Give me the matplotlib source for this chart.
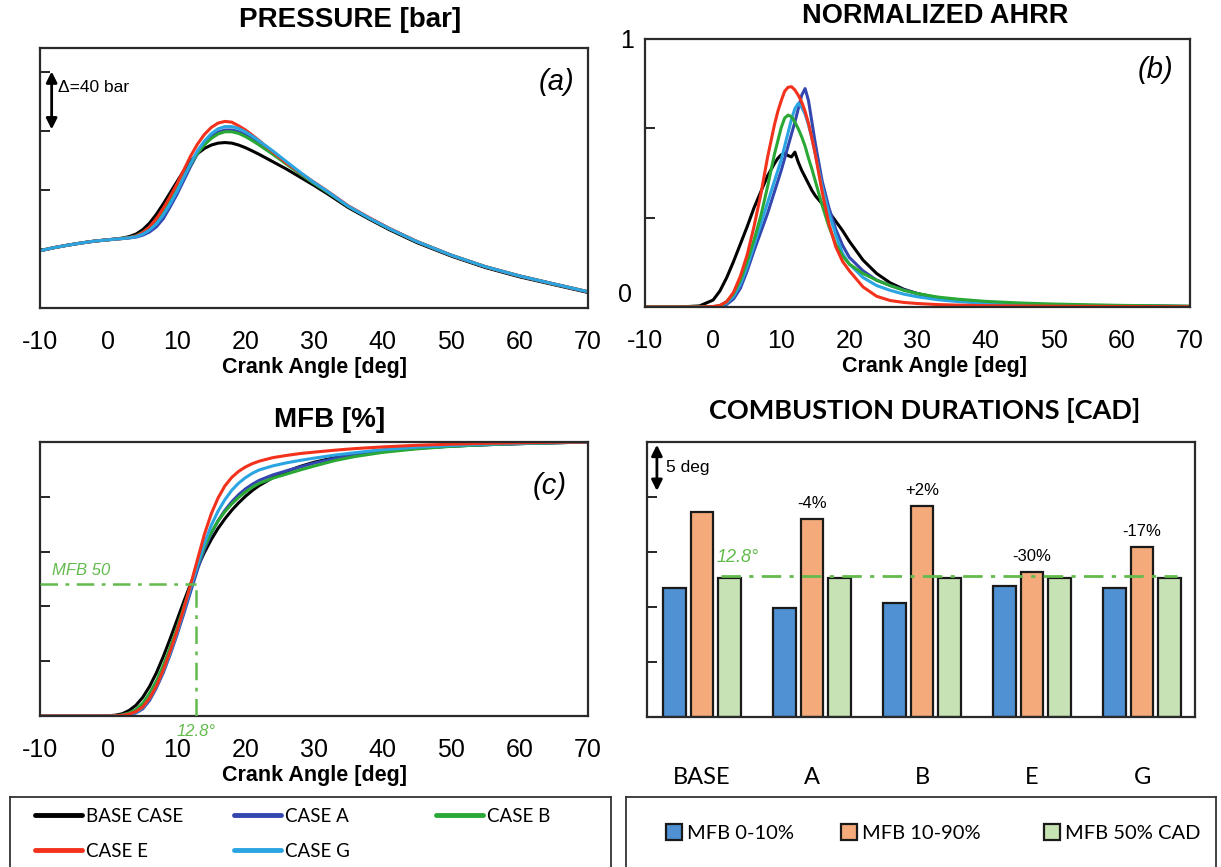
import matplotlib
matplotlib.use('Agg')
import matplotlib.pyplot as plt

plt.rcParams['font.family'] = ['Liberation Sans', 'DejaVu Sans']
plt.rcParams['axes.unicode_minus'] = False

# ---------------- data ----------------
cases = ['BASE CASE', 'CASE A', 'CASE B', 'CASE E', 'CASE G']
case_colors = ['#000000', '#3447b0', '#2aa836', '#f2321c', '#2aa5e2']

# (a) pressure [bar]
ca_p = [-10, -8, -6, -4, -2, 0, 2, 3, 4, 5, 6, 7, 8, 9, 10, 11, 12, 13, 14, 15, 16, 17, 18, 19, 20, 21, 22, 24, 26, 28, 30, 32, 35, 38, 41, 45, 50, 55, 60, 65, 70]
p_base = [38.8, 40.8, 42.5, 44.0, 45.3, 46.2, 47.3, 48.3, 50.0, 53.0, 57.5, 63.5, 70.5, 78.0, 85.5, 93.0, 99.5, 104.5, 108.0, 110.3, 111.6, 112.0, 111.6, 110.3, 108.5, 106.3, 104.0, 99.0, 94.0, 88.5, 83.0, 77.2, 68.0, 60.3, 53.0, 44.3, 35.2, 27.4, 21.1, 15.8, 10.5]
p_a = [38.8, 40.8, 42.5, 44.0, 45.3, 46.2, 47.0, 47.4, 48.0, 49.3, 51.5, 55.0, 60.5, 68.5, 77.0, 86.5, 96.0, 104.5, 111.0, 115.8, 119.0, 120.5, 120.5, 119.3, 117.2, 114.5, 111.5, 105.0, 98.0, 91.0, 84.5, 78.5, 68.8, 61.0, 53.7, 45.0, 35.8, 28.0, 21.7, 16.3, 11.0]
p_b = [38.8, 40.8, 42.5, 44.0, 45.3, 46.2, 47.1, 47.7, 48.8, 51.2, 54.5, 59.5, 65.8, 73.0, 80.5, 89.0, 97.5, 104.8, 110.5, 114.8, 117.8, 119.3, 119.3, 118.2, 116.0, 113.3, 110.3, 104.0, 97.3, 90.7, 84.3, 78.3, 68.8, 61.0, 53.7, 45.0, 35.8, 28.0, 21.7, 16.3, 11.0]
p_e = [38.8, 40.8, 42.5, 44.0, 45.3, 46.2, 47.0, 47.6, 48.6, 51.0, 55.0, 60.5, 67.5, 75.5, 84.0, 93.5, 103.0, 111.0, 117.5, 122.2, 125.2, 126.3, 125.8, 123.3, 120.5, 117.0, 113.3, 105.5, 98.0, 91.5, 85.2, 79.0, 69.2, 61.3, 53.9, 45.1, 35.8, 28.0, 21.7, 16.3, 11.0]
p_g = [38.8, 40.8, 42.5, 44.0, 45.3, 46.2, 47.0, 47.5, 48.2, 50.0, 52.8, 57.0, 63.0, 70.5, 79.0, 88.5, 98.0, 106.5, 113.0, 118.0, 121.3, 122.8, 122.8, 121.5, 119.2, 116.3, 113.0, 106.3, 99.0, 91.8, 85.0, 78.8, 68.9, 61.0, 53.7, 45.0, 35.8, 28.0, 21.7, 16.3, 11.0]

# (b) normalized AHRR
ca_h = [-10, -5, -2, 0, 1, 2, 3, 4, 5, 6, 7, 8, 9, 9.5, 10, 10.5, 11, 11.5, 12, 12.5, 13, 13.5, 14, 14.5, 15, 16, 17, 18, 19, 20, 22, 24, 26, 28, 30, 33, 36, 40, 45, 50, 60, 70]
h_base = [0, 0, 0.004, 0.026, 0.06, 0.11, 0.17, 0.235, 0.30, 0.37, 0.43, 0.49, 0.535, 0.555, 0.568, 0.573, 0.565, 0.56, 0.578, 0.54, 0.51, 0.485, 0.46, 0.435, 0.415, 0.385, 0.355, 0.32, 0.285, 0.245, 0.175, 0.125, 0.09, 0.066, 0.05, 0.034, 0.025, 0.017, 0.011, 0.007, 0.004, 0.002]
h_a = [0, 0, 0, 0, 0.003, 0.01, 0.03, 0.07, 0.135, 0.21, 0.28, 0.35, 0.43, 0.47, 0.51, 0.555, 0.60, 0.645, 0.69, 0.74, 0.79, 0.815, 0.77, 0.69, 0.61, 0.47, 0.37, 0.29, 0.23, 0.185, 0.135, 0.10, 0.08, 0.064, 0.05, 0.032, 0.023, 0.015, 0.01, 0.007, 0.004, 0.002]
h_b = [0, 0, 0, 0.001, 0.005, 0.02, 0.05, 0.10, 0.17, 0.25, 0.34, 0.45, 0.57, 0.62, 0.67, 0.705, 0.716, 0.71, 0.69, 0.665, 0.635, 0.60, 0.555, 0.515, 0.47, 0.38, 0.30, 0.235, 0.19, 0.16, 0.125, 0.10, 0.08, 0.062, 0.05, 0.037, 0.029, 0.021, 0.015, 0.011, 0.006, 0.003]
h_e = [0, 0, 0, 0.002, 0.006, 0.02, 0.055, 0.115, 0.195, 0.30, 0.42, 0.56, 0.68, 0.73, 0.77, 0.805, 0.82, 0.822, 0.81, 0.79, 0.765, 0.73, 0.685, 0.63, 0.57, 0.43, 0.31, 0.225, 0.17, 0.135, 0.075, 0.04, 0.024, 0.017, 0.013, 0.009, 0.007, 0.005, 0.004, 0.003, 0.002, 0.001]
h_g = [0, 0, 0, 0, 0.004, 0.015, 0.04, 0.085, 0.15, 0.23, 0.31, 0.39, 0.47, 0.51, 0.55, 0.60, 0.65, 0.70, 0.74, 0.76, 0.745, 0.72, 0.68, 0.63, 0.57, 0.45, 0.35, 0.27, 0.20, 0.16, 0.11, 0.08, 0.062, 0.048, 0.038, 0.027, 0.02, 0.014, 0.01, 0.007, 0.004, 0.002]

# (c) MFB [%]
ca_m = [-10, -5, 0, 1, 2, 3, 4, 5, 6, 7, 8, 9, 10, 11, 12, 13, 14, 15, 16, 17, 18, 19, 20, 21, 22, 24, 26, 28, 30, 33, 36, 40, 45, 50, 55, 60, 65, 70]
m_base = [0, 0, 0.1, 0.3, 0.8, 2.0, 3.9, 6.8, 10.8, 15.8, 21.7, 28.2, 35.0, 41.8, 48.3, 54.3, 59.7, 64.4, 68.5, 72.0, 75.1, 77.8, 80.2, 82.3, 84.1, 87.0, 89.3, 91.1, 92.6, 94.3, 95.5, 96.7, 97.8, 98.5, 99.0, 99.4, 99.7, 100]
m_a = [0, 0, 0, 0.05, 0.2, 0.5, 1.1, 2.6, 5.7, 10.3, 15.8, 22.4, 29.6, 37.4, 45.5, 53.5, 60.8, 66.6, 71.3, 75.1, 78.2, 80.8, 82.9, 84.6, 86.0, 88.0, 89.5, 90.9, 92.3, 94.0, 95.3, 96.6, 97.7, 98.5, 99.0, 99.4, 99.7, 100]
m_b = [0, 0, 0, 0.1, 0.4, 1.1, 2.3, 4.6, 8.3, 12.8, 18.5, 25.0, 32.0, 39.8, 47.6, 55.0, 61.8, 67.0, 71.2, 74.6, 77.4, 79.8, 81.8, 83.5, 84.9, 86.8, 88.3, 89.8, 91.2, 93.2, 94.7, 96.2, 97.5, 98.4, 99.0, 99.4, 99.7, 100]
m_e = [0, 0, 0, 0.05, 0.2, 0.7, 1.6, 3.3, 6.5, 11.0, 16.8, 23.6, 31.0, 39.2, 48.0, 57.2, 66.3, 73.8, 79.6, 84.0, 87.1, 89.3, 90.9, 92.1, 93.0, 94.3, 95.1, 95.8, 96.3, 97.0, 97.6, 98.2, 98.8, 99.2, 99.5, 99.7, 99.9, 100]
m_g = [0, 0, 0, 0.05, 0.2, 0.6, 1.3, 3.0, 6.3, 10.9, 16.4, 23.0, 30.4, 38.5, 46.8, 55.2, 63.0, 69.6, 74.8, 79.0, 82.4, 85.0, 87.0, 88.6, 89.8, 91.3, 92.4, 93.3, 94.1, 95.2, 96.1, 97.2, 98.1, 98.7, 99.2, 99.5, 99.8, 100]
mfb50_level = 48
mfb50_angle = 12.8

# (d) combustion durations [CAD]
groups = ['BASE', 'A', 'B', 'E', 'G']
dur_0_10 = [11.7, 9.9, 10.4, 11.9, 11.7]
dur_10_90 = [18.6, 18.0, 19.2, 13.2, 15.5]
dur_50 = [12.65, 12.65, 12.65, 12.65, 12.65]
pct_labels = ['', '-4%', '+2%', '-30%', '-17%']
bar_labels = ['MFB 0-10%', 'MFB 10-90%', 'MFB 50% CAD']
bar_colors = ['#4f91d3', '#f5aa7b', '#c7e2b5']

GREEN = '#62bb4c'

# ---------------- layout ----------------
W, H = 1221, 867
fig = plt.figure(figsize=(W / 100, H / 100), dpi=100)


def rect(l, t, r, b):
    return [l / W, 1 - b / H, (r - l) / W, (b - t) / H]


ax_a = fig.add_axes(rect(40, 48, 588, 308))
ax_b = fig.add_axes(rect(645, 39, 1190, 307))
ax_c = fig.add_axes(rect(40, 442, 588, 716))
ax_d = fig.add_axes(rect(647, 442, 1195, 717))

for ax in (ax_a, ax_b, ax_c, ax_d):
    for s in ax.spines.values():
        s.set_linewidth(1.6)
        s.set_color('#2a2a2a')
    ax.tick_params(axis='y', direction='in', length=7, width=1.2, labelsize=18)
    ax.tick_params(axis='x', length=0, labelsize=18, pad=16)

xt = [-10, 0, 10, 20, 30, 40, 50, 60, 70]
lw = 2.2

# (a)
p_sets = [p_base, p_a, p_b, p_e, p_g]
lines_a = []
for lab, col, vals in zip(cases, case_colors, p_sets):
    ln, = ax_a.plot(ca_p, vals, color=col, lw=lw, label=lab, solid_capstyle='round',
                    solid_joinstyle='round')
    lines_a.append(ln)
ax_a.set_xlim(-10, 70)
ax_a.set_ylim(0, 176)
ax_a.set_xticks(xt)
ax_a.set_yticks([40, 80, 120, 160])
ax_a.set_yticklabels([])
ax_a.annotate('', xy=(-8.3, 119), xytext=(-8.3, 162),
              arrowprops=dict(arrowstyle='<|-|>', color='black', lw=2.0, mutation_scale=16))
ax_a.text(-7.4, 149, 'Δ=40 bar', fontsize=12.5, va='center', ha='left')
ax_a.text(0.942, 0.87, '(a)', transform=ax_a.transAxes, fontsize=21, style='italic',
          ha='center', va='center')

# (b)
h_sets = [h_base, h_a, h_g, h_b, h_e]
h_cols = [case_colors[0], case_colors[1], case_colors[4], case_colors[2], case_colors[3]]
for col, vals in zip(h_cols, h_sets):
    ax_b.plot(ca_h, vals, color=col, lw=lw, solid_joinstyle='round')
ax_b.set_xlim(-10, 70)
ax_b.set_ylim(0, 1)
ax_b.set_xticks(xt)
ax_b.set_yticks([0, 1 / 3, 2 / 3, 1])
ax_b.set_yticklabels(['', '', '', '1'])
ax_b.tick_params(axis='y', pad=8)
ax_b.text(-0.024, 0.045, '0', transform=ax_b.transAxes, fontsize=18, ha='right', va='center')
ax_b.text(0.937, 0.885, '(b)', transform=ax_b.transAxes, fontsize=21, style='italic',
          ha='center', va='center')

# (c)
m_sets = [m_base, m_a, m_b, m_g, m_e]
m_cols = [case_colors[0], case_colors[1], case_colors[2], case_colors[4], case_colors[3]]
for col, vals in zip(m_cols, m_sets):
    ax_c.plot(ca_m, vals, color=col, lw=lw, solid_joinstyle='round')
ax_c.plot([-10, mfb50_angle], [mfb50_level, mfb50_level], color=GREEN, lw=1.8,
          dashes=(7, 3, 1.5, 3), zorder=5)
ax_c.plot([mfb50_angle, mfb50_angle], [0, mfb50_level], color=GREEN, lw=1.8,
          dashes=(7, 3, 1.5, 3), zorder=5)
ax_c.text(-8.3, 53, 'MFB 50', color=GREEN, fontsize=12, style='italic', va='center')
ax_c.text(mfb50_angle, -5.5, '12.8°', color=GREEN, fontsize=12, style='italic',
          va='center', ha='center', clip_on=False)
ax_c.set_xlim(-10, 70)
ax_c.set_ylim(0, 100)
ax_c.set_xticks(xt)
ax_c.set_yticks([20, 40, 60, 80])
ax_c.set_yticklabels([])
ax_c.text(0.93, 0.84, '(c)', transform=ax_c.transAxes, fontsize=21, style='italic',
          ha='center', va='center')

for ax in (ax_a, ax_b, ax_c):
    ax.set_xlabel('Crank Angle [deg]', fontsize=15.5, fontweight='bold', labelpad=2)
ax_b.xaxis.label.set_x(0.532)

# (d)
xs = list(range(len(groups)))
bw = 0.205
off = 0.25
bars = []
for k, (vals, col) in enumerate(zip([dur_0_10, dur_10_90, dur_50], bar_colors)):
    b = ax_d.bar([x + (k - 1) * off for x in xs], vals, width=bw, color=col,
                 edgecolor='#1a1a1a', linewidth=1.6, label=bar_labels[k], zorder=2)
    bars.append(b)
for x, v, t in zip(xs, dur_10_90, pct_labels):
    if t:
        ax_d.text(x, v + 0.7, t, ha='center', va='bottom', fontsize=12)
ax_d.plot([0.17, 4.32], [12.85, 12.85], color=GREEN, lw=2, dashes=(7, 3, 1.5, 3), zorder=3)
ax_d.text(0.13, 14.5, '12.8°', color=GREEN, fontsize=13, style='italic', va='center', ha='left')
ax_d.annotate('', xy=(-0.41, 20.3), xytext=(-0.41, 25.0),
              arrowprops=dict(arrowstyle='<|-|>', color='black', lw=2.0, mutation_scale=16))
ax_d.text(-0.33, 22.7, '5 deg', fontsize=12.5, va='center', ha='left')
ax_d.set_xlim(-0.5, 4.48)
ax_d.set_ylim(0, 25)
ax_d.set_yticks([5, 10, 15, 20])
ax_d.set_yticklabels([])
ax_d.set_xticks(xs)
ax_d.set_xticklabels(groups, fontsize=17, family=['Lato', 'DejaVu Sans'])
ax_d.tick_params(axis='x', pad=36)

# titles
fig.text(350 / W, 1 - 20 / H, 'PRESSURE [bar]', fontsize=20, fontweight='bold', ha='center', va='center')
fig.text(935 / W, 1 - 16 / H, 'NORMALIZED AHRR', fontsize=19.5, fontweight='bold', ha='center', va='center')
fig.text(330 / W, 1 - 420 / H, 'MFB [%]', fontsize=20, fontweight='bold', ha='center', va='center')
fig.text(925 / W, 1 - 411 / H, 'COMBUSTION DURATIONS [CAD]', fontsize=19.5, fontweight='bold',
         ha='center', va='center', family=['Lato', 'DejaVu Sans'])

# legend boxes
lbox = fig.add_axes(rect(10, 797, 611, 900))
rbox = fig.add_axes(rect(626, 797, 1216, 900))
for bx in (lbox, rbox):
    bx.set_xticks([])
    bx.set_yticks([])
    bx.patch.set_alpha(0)
    for s in bx.spines.values():
        s.set_linewidth(1.3)
        s.set_color('#333333')

leg_font = dict(family=['Lato', 'DejaVu Sans'], size=13.5)
col_groups = [([0, 3], 35), ([1, 4], 234), ([2], 436)]
for idx, x0 in col_groups:
    lg = fig.legend([lines_a[i] for i in idx], [cases[i] for i in idx],
                    loc='upper left', bbox_to_anchor=(x0 / W, 1 - 808 / H),
                    frameon=False, prop=leg_font, handlelength=2.5, handletextpad=0.2,
                    labelspacing=0.95, borderpad=0, borderaxespad=0)
    for h in lg.legend_handles:
        h.set_linewidth(3.5)

for k, x0 in enumerate([666, 841, 1044]):
    fig.legend([bars[k]], [bar_labels[k]], loc='center left',
               bbox_to_anchor=(x0 / W, 1 - 833 / H), frameon=False,
               prop=dict(family=['Lato', 'DejaVu Sans'], size=14.5),
               handlelength=0.8, handleheight=0.8, handletextpad=0.25,
               borderpad=0, borderaxespad=0)

fig.savefig('out.png', dpi=100)
